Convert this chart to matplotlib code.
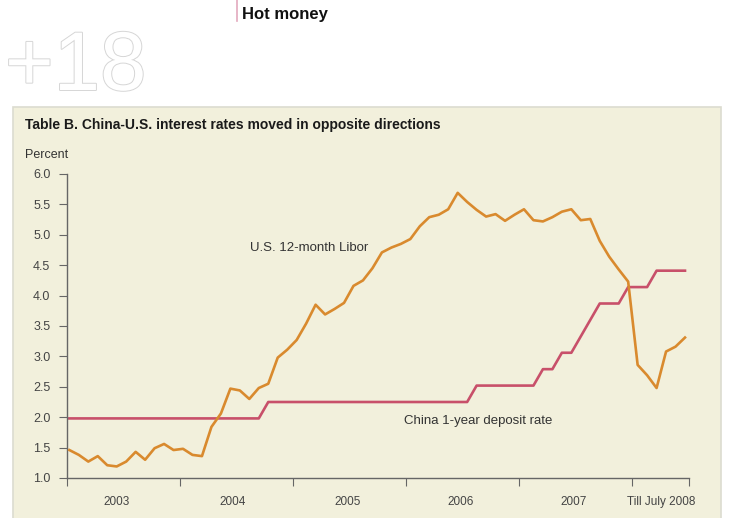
import matplotlib.pyplot as plt
import matplotlib.patheffects as pe
from matplotlib.patches import Rectangle

plt.rcParams['font.family'] = ['Liberation Sans', 'DejaVu Sans']

# monthly values, Jan 2003 .. Jun 2008
libor = [1.46, 1.38, 1.27, 1.36, 1.21, 1.19, 1.27, 1.43, 1.30, 1.49, 1.56, 1.46,
         1.48, 1.38, 1.36, 1.84, 2.06, 2.47, 2.44, 2.30, 2.48, 2.55, 2.98, 3.11,
         3.27, 3.54, 3.85, 3.69, 3.78, 3.88, 4.16, 4.25, 4.45, 4.71, 4.79, 4.85,
         4.93, 5.14, 5.29, 5.33, 5.42, 5.69, 5.54, 5.41, 5.30, 5.34, 5.23, 5.33,
         5.42, 5.24, 5.22, 5.29, 5.38, 5.42, 5.24, 5.26, 4.90, 4.64, 4.43, 4.23,
         2.86, 2.69, 2.48, 3.08, 3.16, 3.31]
china = [1.98] * 21 + [2.25] * 22 + [2.52] * 7 + [2.79] * 2 + [3.06] * 2 + \
        [3.33, 3.60] + [3.87] * 3 + [4.14] * 3 + [4.41] * 4
months = [0.25 + i * 1.005 for i in range(len(libor))]

year_labels = ['2003', '2004', '2005', '2006', '2007', 'Till July 2008']
year_ticks = [0, 12, 24, 36, 48, 60, 66]
label_pos = [5.3, 17.6, 29.8, 41.8, 53.8, 63]
y_ticks = [1.0, 1.5, 2.0, 2.5, 3.0, 3.5, 4.0, 4.5, 5.0, 5.5, 6.0]

W, H = 729, 518
fig = plt.figure(figsize=(W / 100, H / 100), dpi=100)
fig.patch.set_facecolor('white')

# panel
panel = Rectangle((13 / W, -0.01), 708 / W, (H - 107) / H + 0.01, transform=fig.transFigure,
                  facecolor='#F2F0DC', edgecolor='#DCDCD0', linewidth=1.2, zorder=-5)
fig.patches.append(panel)

# header
fig.text(5 / W, 1 - 90 / H, '+18', fontsize=60, color='white',
         path_effects=[pe.withStroke(linewidth=1.4, foreground='#D6D6D6')])
fig.add_artist(plt.Line2D([237 / W, 237 / W], [1, 1 - 21 / H], color='#E3A9BE', lw=1.2,
                          transform=fig.transFigure))
fig.text(242 / W, 1 - 15 / H, 'Hot money', fontsize=12, fontweight='bold', va='center',
         color='#111111')

fig.text(25 / W, 1 - 125 / H, 'Table B. China-U.S. interest rates moved in opposite directions',
         fontsize=10, fontweight='bold', va='center', color='#1a1a1a')
fig.text(25 / W, 1 - 155 / H, 'Percent', fontsize=9, va='center', color='#333333')

ax = fig.add_axes([67 / W, 40 / H, 622 / W, 304 / H])
ax.set_facecolor('none')
ax.plot(months, libor, color='#D98A2E', lw=1.9, zorder=3)
ax.plot(months, china, color='#C8506A', lw=1.9, zorder=2)

ax.set_xlim(0, 66)
ax.set_ylim(1.0, 6.0)
ax.set_yticks(y_ticks)
ax.set_yticklabels([f'{v:.1f}' for v in y_ticks])
ax.set_xticks(year_ticks)
ax.set_xticklabels([])
ax.set_xticks(label_pos, minor=True)
ax.set_xticklabels(year_labels, minor=True)
ax.tick_params(axis='x', which='minor', length=0, pad=13, labelsize=8.5, labelcolor='#444444')
ax.tick_params(axis='x', which='major', length=6, color='#666666')
ax.tick_params(axis='y', length=6, color='#666666', labelsize=9, labelcolor='#444444', pad=6)
for s in ['top', 'right']:
    ax.spines[s].set_visible(False)
for s in ['left', 'bottom']:
    ax.spines[s].set_color('#666666')
    ax.spines[s].set_linewidth(1.0)

ax.text(19.4, 4.78, 'U.S. 12-month Libor', fontsize=9.5, color='#333333', va='center')
ax.text(35.8, 1.94, 'China 1-year deposit rate', fontsize=9.5, color='#333333', va='center')

fig.savefig('out.png', dpi=100)
